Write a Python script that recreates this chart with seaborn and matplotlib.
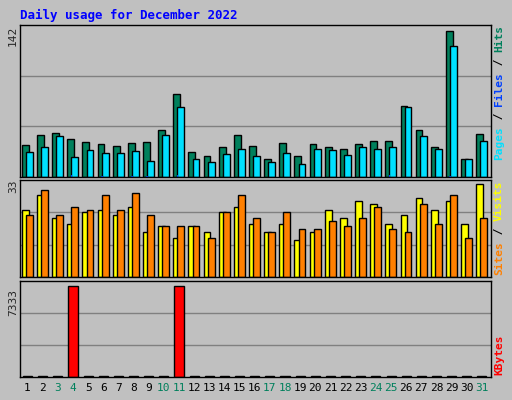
import numpy as np
import matplotlib
matplotlib.use("Agg")
import matplotlib.pyplot as plt
import seaborn as sns

days = list(range(1, 32))
weekend = [3, 4, 10, 11, 17, 18, 24, 25, 31]
hits = [31, 41, 43, 37, 34, 32, 30, 33, 34, 46, 81, 24, 20, 29, 41, 30, 18, 33, 20, 32,
        29, 27, 32, 35, 35, 69, 46, 29, 142, 18, 42]
files = [24, 29, 40, 19, 26, 23, 23, 25, 16, 41, 68, 18, 15, 22, 27, 20, 15, 23, 13, 27,
         26, 21, 29, 27, 29, 68, 40, 27, 128, 18, 35]
pages = [0, 0, 0, 2, 0, 1, 0, 1, 1, 0, 2, 0, 0, 0, 0, 0, 0, 0, 0, 0,
         0, 0, 0, 0, 2, 0, 0, 0, 1, 0, 0]
visits = [24, 29, 21, 19, 23, 24, 22, 25, 16, 18, 14, 18, 16, 23, 25, 19, 16, 19, 13, 16,
          24, 21, 27, 26, 19, 22, 28, 24, 27, 19, 33]
sites = [22, 31, 22, 25, 24, 29, 24, 30, 22, 18, 18, 18, 14, 23, 29, 21, 16, 23, 17, 17,
         20, 18, 21, 25, 17, 16, 26, 19, 29, 14, 21]
kbytes = [60] * 31
kbytes[3] = 7333
kbytes[10] = 7333

BG = "#c0c0c0"
sns.set_style("white")
plt.rcParams["font.family"] = ["DejaVu Sans Mono"]

fig = plt.figure(figsize=(5.12, 4.0), dpi=100, facecolor=BG)
W, H = 512, 400

def panel(top, bottom):
    ax = fig.add_axes([20 / W, 1 - bottom / H, 471 / W, (bottom - top) / H])
    ax.set_facecolor(BG)
    for s in ax.spines.values():
        s.set_color("black")
        s.set_linewidth(1)
    ax.set_xlim(0.5, 31.6)
    ax.set_xticks([])
    ax.set_yticks([])
    return ax

x = np.array(days, dtype=float)
ec = dict(edgecolor="black", linewidth=1)

ax1 = panel(25, 177)
ax1.set_ylim(0, 148)
for g in (148 / 3, 2 * 148 / 3):
    ax1.axhline(g, color="#808080", lw=1, zorder=0)
ax1.bar(x - 0.15, hits, width=0.45, color="#00805c", **ec)
ax1.bar(x + 0.12, files, width=0.45, color="#00e0ff", **ec)
ax1.bar(x - 0.1, pages, width=0.12, color="#0040ff", linewidth=0)

ax2 = panel(180, 277)
ax2.set_ylim(0, 34.5)
for g in (34.5 / 3, 2 * 34.5 / 3):
    ax2.axhline(g, color="#808080", lw=1, zorder=0)
ax2.bar(x - 0.15, visits, width=0.45, color="#ffff00", **ec)
ax2.bar(x + 0.12, sites, width=0.45, color="#ff8000", **ec)

ax3 = panel(281, 377)
ax3.set_ylim(0, 7700)
for g in (7700 / 3, 2 * 7700 / 3):
    ax3.axhline(g, color="#808080", lw=1, zorder=0)
ax3.bar(x, kbytes, width=0.6, color="#ff0000", **ec)

fig.text(20 / W, 1 - 15 / H, "Daily usage for December 2022", color="#0000ff",
         fontsize=9, fontweight="bold", va="center")
fig.text(13 / W, 1 - 36 / H, "142", rotation=90, fontsize=8, ha="center", va="center")
fig.text(13 / W, 1 - 186 / H, "33", rotation=90, fontsize=8, ha="center", va="center")
fig.text(13 / W, 1 - 303 / H, "7333", rotation=90, fontsize=8, ha="center", va="center")

renderer = fig.canvas.get_renderer()

def vlabel(y0, parts):
    y = y0
    for txt, col in parts:
        t = fig.text(499 / W, 1 - y / H, txt, rotation=90, color=col, fontsize=8,
                     fontweight="bold", ha="center", va="bottom")
        bb = t.get_window_extent(renderer)
        y -= bb.height

vlabel(160, [("Pages", "#00e0ff"), (" / ", "black"), ("Files", "#0040ff"),
             (" / ", "black"), ("Hits", "#00805c")])
vlabel(275, [("Sites", "#ff8000"), (" / ", "black"), ("Visits", "#ffff00")])
vlabel(375, [("KBytes", "#ff0000")])

for d in days:
    fig.text((20 + (d - 0.5) / 31.1 * 471) / W, 1 - 388 / H, str(d), fontsize=8,
             ha="center", va="center",
             color="#00805c" if d in weekend else "black")

fig.savefig("out.png", dpi=100, facecolor=BG)
